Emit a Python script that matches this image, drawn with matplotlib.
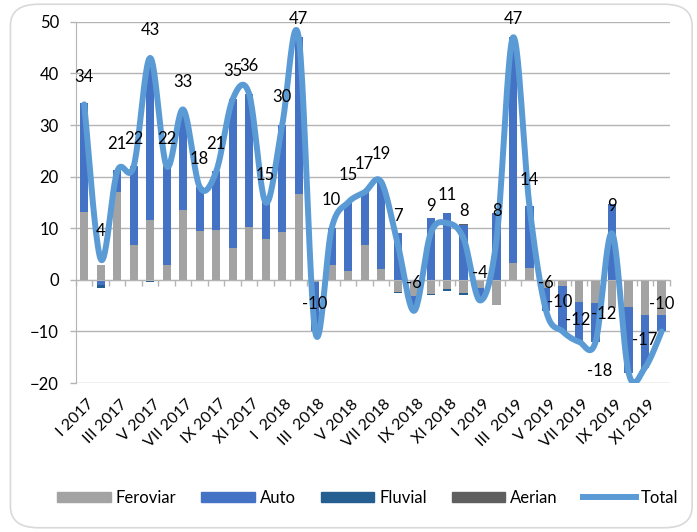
import numpy as np
import matplotlib
matplotlib.use("Agg")
import matplotlib.pyplot as plt
from matplotlib.patches import Patch, FancyBboxPatch
from matplotlib.lines import Line2D

plt.rcParams['font.family'] = ['Lato', 'DejaVu Sans']

# months I 2017 .. XII 2019
tick_labels = ["I 2017", "III 2017", "V 2017", "VII 2017", "IX 2017", "XI 2017",
               "I  2018", "III  2018", "V 2018", "VII 2018", "IX 2018", "XI 2018",
               "I 2019", "III  2019", "V 2019", "VII 2019", "IX 2019", "XI 2019"]

feroviar = [13.2, 2.9, 17.0, 6.8, 11.5, 2.9, 13.6, 9.5, 9.7, 6.2, 10.3, 8.0,
            9.2, 16.6, -0.5, 2.9, 1.8, 6.8, 2.1, -2.3, -3.2, -2.7, -1.8, -2.6,
            -1.6, -4.9, 3.2, 2.3, -1.5, -1.2, -4.2, -4.5, -5.5, -5.3, -6.8, -6.8]
auto = [21.0, -1.0, 4.3, 15.2, 31.5, 19.1, 19.4, 8.5, 11.3, 28.8, 25.7, 7.0,
        20.8, 30.4, -9.5, 7.1, 13.2, 10.2, 16.9, 9.1, -2.8, 11.9, 12.9, 10.6,
        -2.4, 13.0, 43.8, 12.0, -4.5, -8.8, -7.8, -7.5, 14.6, -12.7, -10.2, -3.2]
fluvial = [-0.2, -0.5, 0, -0.2, -0.4, 0, 0, 0, 0, 0, 0, 0,
           0, 0, 0, 0, 0, 0, 0, -0.3, 0, -0.3, -0.3, -0.3,
           0, 0, 0, 0, 0, 0, 0, 0, 0, 0, 0, 0]
aerian = [0, 0, 0, 0, 0, 0, 0, 0, 0, 0, 0, 0,
          0, 0, 0, 0, 0, 0, 0, 0, 0, 0, 0, 0.3,
          0, 0, 0, 0, 0, 0, 0, 0, 0, 0, 0, 0]
total = [34, 4, 21, 22, 43, 22, 33, 18, 21, 35, 36, 15,
         30, 47, -10, 10, 15, 17, 19, 7, -6, 9, 11, 8,
         -4, 8, 47, 14, -6, -10, -12, -12, 9, -18, -17, -10]

series = [("Feroviar", feroviar, "#a3a3a3"),
          ("Auto", auto, "#4472c4"),
          ("Fluvial", fluvial, "#255e91"),
          ("Aerian", aerian, "#5f5f5f")]
line_color = "#5b9bd5"
grid_color = "#b4b4b4"


def smooth(y, n=24):
    # Excel-like smoothed line (Catmull-Rom bezier)
    p = np.column_stack([np.arange(len(y)), np.asarray(y, float)])
    pts = []
    for i in range(len(p) - 1):
        p0 = p[max(i - 1, 0)]
        p1, p2 = p[i], p[i + 1]
        p3 = p[min(i + 2, len(p) - 1)]
        c1 = p1 + (p2 - p0) / 6
        c2 = p2 - (p3 - p1) / 6
        t = np.linspace(0, 1, n, endpoint=False)[:, None]
        pts.append((1 - t) ** 3 * p1 + 3 * (1 - t) ** 2 * t * c1
                   + 3 * (1 - t) * t ** 2 * c2 + t ** 3 * p2)
    pts.append(p[-1:])
    pts = np.vstack(pts)
    return pts[:, 0], pts[:, 1]


fig = plt.figure(figsize=(6.97, 5.32), dpi=100)
fig.patches.append(FancyBboxPatch((0.015, 0.008), 0.978, 0.984,
                                  boxstyle="round,pad=0,rounding_size=0.04",
                                  transform=fig.transFigure, facecolor="white",
                                  edgecolor="#d9d9d9", linewidth=1.2, zorder=-1))
ax = fig.add_axes([0.109, 0.280, 0.852, 0.679])
ax.patch.set_alpha(0)

x = np.arange(len(total))
pos_base = np.zeros(len(x))
neg_base = np.zeros(len(x))
for name, vals, col in series:
    v = np.asarray(vals, float)
    bottom = np.where(v >= 0, pos_base, neg_base)
    ax.bar(x, v, width=0.5, bottom=bottom, color=col, zorder=2)
    pos_base += np.where(v >= 0, v, 0)
    neg_base += np.where(v < 0, v, 0)

sx, sy = smooth(total)
ax.plot(sx, sy, color=line_color, lw=4.3, solid_capstyle="round", zorder=3)

# label offsets (points); a few are nudged like in the original
offsets = {13: (0, 13), 26: (0, 13), 29: (-2, 21), 30: (-1, 16),
           31: (6, 20), 33: (-21, 1)}
for i, v in enumerate(total):
    ax.annotate(str(v), (i, v), xytext=offsets.get(i, (0, 20)),
                textcoords="offset points", ha="center", va="center",
                fontsize=12, zorder=4)

ax.set_xlim(-0.5, len(x) - 0.5)
ax.set_ylim(-20, 50)
ax.set_yticks(range(-20, 51, 10))
ax.yaxis.grid(True, color=grid_color, lw=1)
ax.set_axisbelow(True)
ax.tick_params(axis="y", length=4.3, width=1, color=grid_color, pad=8,
               labelsize=12)

for s in ["top", "right"]:
    ax.spines[s].set_visible(False)
ax.spines["left"].set_color(grid_color)
ax.spines["bottom"].set_position(("data", 0))
ax.spines["bottom"].set_color(grid_color)
ax.set_xticks(np.arange(-0.5, len(x), 1.0))
ax.set_xticklabels([])
ax.tick_params(axis="x", length=4.3, width=1, color=grid_color)

for k, lab in enumerate(tick_labels):
    ax.annotate(lab, (2 * k, 0), xycoords=("data", "axes fraction"),
                xytext=(2, -10), textcoords="offset points", rotation=45,
                rotation_mode="anchor", ha="right", va="top", fontsize=11.5)

handles = [Patch(color=c, label=n) for n, _, c in series]
handles.append(Line2D([], [], color=line_color, lw=4.3, label="Total"))
fig.legend(handles=handles, loc="center", bbox_to_anchor=(0.528, 0.064),
           ncol=5, frameon=False, fontsize=12, handlelength=3.2,
           handleheight=0.6, handletextpad=0.3, columnspacing=1.5)

fig.savefig("out.png", dpi=100)
